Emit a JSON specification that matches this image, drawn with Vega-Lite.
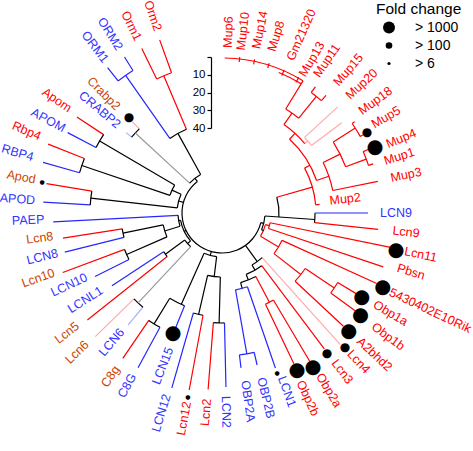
{
  "$schema": "https://vega.github.io/schema/vega-lite/v6.json",
  "width": 444,
  "height": 426,
  "autosize": "none",
  "padding": {"left": 0, "top": 0, "right": 29, "bottom": 25},
  "config": {"view": {"stroke": null}},
  "datasets": {
    "tree": [
      {"t":1,"t2":31.5,"r":155,"r2":155,"c":"M"},
      {"t":22,"t2":31.5,"r":151.5,"r2":151.5,"c":"M"},
      {"t":6.5,"t2":6.5,"r":157,"r2":152,"c":"M"},
      {"t":12,"t2":12,"r":157,"r2":152,"c":"M"},
      {"t":17.5,"t2":17.5,"r":157,"r2":152,"c":"M"},
      {"t":23.5,"t2":23.5,"r":156,"r2":150,"c":"M"},
      {"t":29.5,"t2":29.5,"r":156,"r2":150,"c":"M"},
      {"t":31.5,"t2":31.5,"r":155,"r2":122,"c":"M"},
      {"t":36.5,"t2":36.5,"r":157,"r2":150,"c":"M"},
      {"t":41.5,"t2":41.5,"r":157,"r2":150,"c":"M"},
      {"t":36.5,"t2":41.5,"r":150,"r2":150,"c":"M"},
      {"t":39,"t2":39,"r":150,"r2":122,"c":"M"},
      {"t":31.5,"t2":39,"r":122,"r2":122,"c":"M"},
      {"t":35,"t2":35,"r":122,"r2":108,"c":"M"},
      {"t":47.5,"t2":47.5,"r":157,"r2":112,"c":"MP"},
      {"t":53,"t2":53,"r":150,"r2":112,"c":"MP"},
      {"t":47.5,"t2":53,"r":112,"r2":112,"c":"MP"},
      {"t":50,"t2":50,"r":112,"r2":108,"c":"MP"},
      {"t":35,"t2":50,"r":108,"r2":108,"c":"M"},
      {"t":42.5,"t2":42.5,"r":108,"r2":100,"c":"M"},
      {"t":57.5,"t2":57.5,"r":158,"r2":132,"c":"M"},
      {"t":55.5,"t2":61,"r":158,"r2":158,"c":"M"},
      {"t":55.5,"t2":55.5,"r":161,"r2":158,"c":"M"},
      {"t":61,"t2":61,"r":161,"r2":158,"c":"M"},
      {"t":66.5,"t2":66.5,"r":160,"r2":154,"c":"M"},
      {"t":72,"t2":72,"r":159,"r2":154,"c":"M"},
      {"t":66.5,"t2":72,"r":154,"r2":154,"c":"M"},
      {"t":69.5,"t2":69.5,"r":154,"r2":132,"c":"M"},
      {"t":57.5,"t2":69.5,"r":132,"r2":132,"c":"M"},
      {"t":63.5,"t2":63.5,"r":132,"r2":113,"c":"M"},
      {"t":78.5,"t2":78.5,"r":159,"r2":113,"c":"M"},
      {"t":63.5,"t2":78.5,"r":113,"r2":113,"c":"M"},
      {"t":71,"t2":71,"r":113,"r2":100,"c":"M"},
      {"t":42.5,"t2":71,"r":100,"r2":100,"c":"M"},
      {"t":61.5,"t2":61.5,"r":100,"r2":94,"c":"M"},
      {"t":85,"t2":85,"r":98,"r2":94,"c":"M"},
      {"t":61.5,"t2":85,"r":94,"r2":94,"c":"M"},
      {"t":74,"t2":74,"r":94,"r2":57,"c":"M"},
      {"t":74,"t2":94,"r":57,"r2":57,"c":"K"},
      {"t":94,"t2":94,"r":93,"r2":43,"c":"K"},
      {"t":90,"t2":96,"r":93,"r2":93,"c":"K"},
      {"t":90,"t2":90,"r":146,"r2":93,"c":"H"},
      {"t":96,"t2":96,"r":157,"r2":93,"c":"M"},
      {"t":101.5,"t2":101.5,"r":172,"r2":49,"c":"M"},
      {"t":108.5,"t2":108.5,"r":170,"r2":49,"c":"M"},
      {"t":101.5,"t2":108.5,"r":49,"r2":49,"c":"M"},
      {"t":105,"t2":105,"r":49,"r2":45,"c":"M"},
      {"t":114.5,"t2":114.5,"r":170,"r2":66,"c":"M"},
      {"t":121,"t2":121,"r":157,"r2":135,"c":"M"},
      {"t":126.3,"t2":126.3,"r":166,"r2":135,"c":"M"},
      {"t":121,"t2":126.3,"r":135,"r2":135,"c":"M"},
      {"t":123.7,"t2":123.7,"r":135,"r2":100,"c":"M"},
      {"t":133,"t2":133,"r":166,"r2":100,"c":"M"},
      {"t":123.7,"t2":133,"r":100,"r2":100,"c":"M"},
      {"t":128,"t2":128,"r":100,"r2":66,"c":"M"},
      {"t":114.5,"t2":128,"r":66,"r2":66,"c":"M"},
      {"t":121,"t2":121,"r":66,"r2":45,"c":"M"},
      {"t":105,"t2":121,"r":45,"r2":45,"c":"M"},
      {"t":113,"t2":113,"r":45,"r2":43,"c":"K"},
      {"t":94,"t2":113,"r":43,"r2":43,"c":"K"},
      {"t":104,"t2":104,"r":43,"r2":40,"c":"K"},
      {"t":138,"t2":138,"r":177,"r2":60,"c":"MP"},
      {"t":143,"t2":143,"r":170,"r2":66,"c":"M"},
      {"t":149.4,"t2":149.4,"r":172,"r2":101,"c":"M"},
      {"t":154.5,"t2":154.5,"r":167,"r2":101,"c":"M"},
      {"t":149.4,"t2":154.5,"r":101,"r2":101,"c":"M"},
      {"t":152,"t2":152,"r":101,"r2":72,"c":"M"},
      {"t":161,"t2":161,"r":164,"r2":78,"c":"H"},
      {"t":167,"t2":167,"r":156,"r2":143,"c":"H"},
      {"t":173,"t2":173,"r":156,"r2":143,"c":"H"},
      {"t":167,"t2":173,"r":143,"r2":143,"c":"H"},
      {"t":170,"t2":170,"r":143,"r2":78,"c":"H"},
      {"t":161,"t2":170,"r":78,"r2":78,"c":"H"},
      {"t":165,"t2":165,"r":78,"r2":72,"c":"K"},
      {"t":152,"t2":165,"r":72,"r2":72,"c":"K"},
      {"t":158.5,"t2":158.5,"r":72,"r2":66,"c":"K"},
      {"t":143,"t2":158.5,"r":66,"r2":66,"c":"K"},
      {"t":150,"t2":150,"r":66,"r2":60,"c":"K"},
      {"t":138,"t2":150,"r":60,"r2":60,"c":"K"},
      {"t":144,"t2":144,"r":60,"r2":40,"c":"K"},
      {"t":104,"t2":322,"r":40,"r2":40,"c":"K"},
      {"t":178.7,"t2":178.7,"r":174,"r2":110,"c":"H"},
      {"t":184.5,"t2":184.5,"r":177,"r2":110,"c":"M"},
      {"t":178.7,"t2":184.5,"r":110,"r2":110,"c":"K"},
      {"t":181.5,"t2":181.5,"r":110,"r2":64,"c":"K"},
      {"t":190.5,"t2":190.5,"r":180,"r2":104,"c":"M"},
      {"t":196,"t2":196,"r":182,"r2":104,"c":"H"},
      {"t":190.5,"t2":196,"r":104,"r2":104,"c":"K"},
      {"t":193,"t2":193,"r":104,"r2":64,"c":"K"},
      {"t":181.5,"t2":193,"r":64,"r2":64,"c":"K"},
      {"t":187,"t2":187,"r":64,"r2":44,"c":"K"},
      {"t":202,"t2":202,"r":124,"r2":100,"c":"H"},
      {"t":208.5,"t2":208.5,"r":176,"r2":130,"c":"H"},
      {"t":214.3,"t2":214.3,"r":176,"r2":130,"c":"M"},
      {"t":208.5,"t2":214.3,"r":130,"r2":130,"c":"K"},
      {"t":211.5,"t2":211.5,"r":130,"r2":100,"c":"K"},
      {"t":202,"t2":211.5,"r":100,"r2":100,"c":"K"},
      {"t":204,"t2":204,"r":100,"r2":44,"c":"K"},
      {"t":187,"t2":204,"r":44,"r2":44,"c":"K"},
      {"t":195.5,"t2":195.5,"r":44,"r2":40,"c":"K"},
      {"t":220,"t2":220,"r":146,"r2":123,"c":"HP"},
      {"t":225.7,"t2":225.7,"r":177,"r2":123,"c":"MP"},
      {"t":220,"t2":225.7,"r":123,"r2":123,"c":"K"},
      {"t":223,"t2":223,"r":123,"r2":46,"c":"G"},
      {"t":231.5,"t2":231.5,"r":172,"r2":70,"c":"M"},
      {"t":236.5,"t2":236.5,"r":132,"r2":70,"c":"H"},
      {"t":231.5,"t2":236.5,"r":70,"r2":70,"c":"K"},
      {"t":234,"t2":234,"r":70,"r2":46,"c":"K"},
      {"t":223,"t2":234,"r":46,"r2":46,"c":"K"},
      {"t":228.5,"t2":228.5,"r":46,"r2":42,"c":"K"},
      {"t":243.4,"t2":243.4,"r":142,"r2":104,"c":"H"},
      {"t":249.5,"t2":249.5,"r":170,"r2":104,"c":"M"},
      {"t":243.4,"t2":249.5,"r":104,"r2":104,"c":"K"},
      {"t":246.5,"t2":246.5,"r":104,"r2":60,"c":"K"},
      {"t":256,"t2":256,"r":162,"r2":101,"c":"H"},
      {"t":261,"t2":261,"r":161,"r2":101,"c":"M"},
      {"t":256,"t2":261,"r":101,"r2":101,"c":"K"},
      {"t":258.5,"t2":258.5,"r":101,"r2":60,"c":"K"},
      {"t":246.5,"t2":258.5,"r":60,"r2":60,"c":"K"},
      {"t":252.5,"t2":252.5,"r":60,"r2":44,"c":"K"},
      {"t":267,"t2":267,"r":169,"r2":44,"c":"H"},
      {"t":252.5,"t2":267,"r":44,"r2":44,"c":"K"},
      {"t":260,"t2":260,"r":44,"r2":42,"c":"K"},
      {"t":228.5,"t2":260,"r":42,"r2":42,"c":"K"},
      {"t":244,"t2":244,"r":42,"r2":40,"c":"K"},
      {"t":273.5,"t2":273.5,"r":179,"r2":132,"c":"H"},
      {"t":279.5,"t2":279.5,"r":178,"r2":132,"c":"M"},
      {"t":273.5,"t2":279.5,"r":132,"r2":132,"c":"K"},
      {"t":276.5,"t2":276.5,"r":132,"r2":45,"c":"K"},
      {"t":285.8,"t2":285.8,"r":186,"r2":148,"c":"H"},
      {"t":291.6,"t2":291.6,"r":187,"r2":148,"c":"M"},
      {"t":285.8,"t2":291.6,"r":148,"r2":148,"c":"K"},
      {"t":288.7,"t2":288.7,"r":148,"r2":55,"c":"K"},
      {"t":297.5,"t2":297.5,"r":174,"r2":142,"c":"H"},
      {"t":303.5,"t2":303.5,"r":174,"r2":142,"c":"M"},
      {"t":297.5,"t2":303.5,"r":142,"r2":142,"c":"K"},
      {"t":300.5,"t2":300.5,"r":142,"r2":55,"c":"K"},
      {"t":288.7,"t2":300.5,"r":55,"r2":55,"c":"K"},
      {"t":294.6,"t2":294.6,"r":55,"r2":45,"c":"K"},
      {"t":276.5,"t2":294.6,"r":45,"r2":45,"c":"K"},
      {"t":285.5,"t2":285.5,"r":45,"r2":40,"c":"K"},
      {"t":310,"t2":310,"r":125,"r2":118,"c":"HP"},
      {"t":315.5,"t2":315.5,"r":128,"r2":118,"c":"MP"},
      {"t":310,"t2":315.5,"r":118,"r2":118,"c":"K"},
      {"t":312.7,"t2":312.7,"r":118,"r2":44,"c":"G"},
      {"t":321.8,"t2":321.8,"r":185,"r2":168,"c":"H"},
      {"t":328,"t2":328,"r":184,"r2":168,"c":"H"},
      {"t":321.8,"t2":328,"r":168,"r2":168,"c":"H"},
      {"t":325,"t2":325,"r":168,"r2":91,"c":"H"},
      {"t":334,"t2":334,"r":183,"r2":149,"c":"M"},
      {"t":340.2,"t2":340.2,"r":184,"r2":149,"c":"M"},
      {"t":334,"t2":340.2,"r":149,"r2":149,"c":"M"},
      {"t":337,"t2":337,"r":149,"r2":91,"c":"M"},
      {"t":325,"t2":337,"r":91,"r2":91,"c":"K"},
      {"t":331,"t2":331,"r":91,"r2":44,"c":"K"},
      {"t":312.7,"t2":331,"r":44,"r2":44,"c":"K"},
      {"t":322,"t2":322,"r":44,"r2":40,"c":"K"}
    ],
    "labels": [
      {"name":"Mup6","t":2,"lr":181,"sp":"M"},
      {"name":"Mup10","t":6.6,"lr":183,"sp":"M"},
      {"name":"Mup14","t":11.7,"lr":187,"sp":"M"},
      {"name":"Mup8","t":17,"lr":185,"sp":"M"},
      {"name":"Gm21320","t":24,"lr":195,"sp":"M"},
      {"name":"Mup13","t":30.3,"lr":178,"sp":"M"},
      {"name":"Mup11","t":34.5,"lr":185,"sp":"M"},
      {"name":"Mup15","t":41.4,"lr":191,"sp":"M"},
      {"name":"Mup20","t":47.3,"lr":190,"sp":"M"},
      {"name":"Mup18","t":53.8,"lr":190,"sp":"M"},
      {"name":"Mup5","t":59.7,"lr":190,"sp":"M"},
      {"name":"Mup4","t":67.4,"lr":194,"sp":"M"},
      {"name":"Mup1","t":72.3,"lr":186,"sp":"M"},
      {"name":"Mup3","t":78.3,"lr":188,"sp":"M"},
      {"name":"Mup2","t":83.5,"lr":124,"sp":"M"},
      {"name":"LCN9","t":90,"lr":174,"sp":"H"},
      {"name":"Lcn9","t":95.9,"lr":185,"sp":"M"},
      {"name":"Lcn11","t":101.8,"lr":203,"sp":"M"},
      {"name":"Pbsn","t":107.3,"lr":198,"sp":"M"},
      {"name":"5430402E10Rik","t":115.1,"lr":230,"sp":"M"},
      {"name":"Obp1a","t":120.7,"lr":196,"sp":"M"},
      {"name":"Obp1b","t":126.6,"lr":207,"sp":"M"},
      {"name":"A2bhd2","t":132.8,"lr":208,"sp":"M"},
      {"name":"Lcn4","t":137.4,"lr":202,"sp":"M"},
      {"name":"Lcn3","t":142.8,"lr":199,"sp":"M"},
      {"name":"Obp2a","t":148.9,"lr":207,"sp":"M"},
      {"name":"Obp2b","t":155.1,"lr":204,"sp":"M"},
      {"name":"LCN1","t":160,"lr":190,"sp":"H"},
      {"name":"OBP2B","t":166.6,"lr":190,"sp":"H"},
      {"name":"OBP2A","t":172.1,"lr":190,"sp":"H"},
      {"name":"LCN2","t":178.8,"lr":199,"sp":"H"},
      {"name":"Lcn2","t":184.6,"lr":200,"sp":"M"},
      {"name":"Lcn12","t":190.5,"lr":209,"sp":"M"},
      {"name":"LCN12","t":196.9,"lr":209,"sp":"H"},
      {"name":"LCN15","t":201.2,"lr":164,"sp":"H"},
      {"name":"C8G","t":208.8,"lr":197,"sp":"H"},
      {"name":"C8g","t":214.3,"lr":198,"sp":"O"},
      {"name":"LCN6","t":220.5,"lr":170,"sp":"H"},
      {"name":"Lcn6","t":226.2,"lr":201,"sp":"O"},
      {"name":"Lcn5","t":232.3,"lr":196,"sp":"O"},
      {"name":"LCNL1","t":237.6,"lr":162,"sp":"H"},
      {"name":"LCN10","t":244.8,"lr":169,"sp":"H"},
      {"name":"Lcn10","t":250.5,"lr":195,"sp":"O"},
      {"name":"LCN8","t":256.3,"lr":185,"sp":"H"},
      {"name":"Lcn8","t":262.2,"lr":184,"sp":"O"},
      {"name":"PAEP","t":267.9,"lr":194,"sp":"H"},
      {"name":"APOD","t":273.9,"lr":205,"sp":"H"},
      {"name":"Apod","t":280.2,"lr":204,"sp":"O"},
      {"name":"RBP4","t":286.4,"lr":213,"sp":"H"},
      {"name":"Rbp4","t":292.8,"lr":212,"sp":"M"},
      {"name":"APOM","t":298.1,"lr":197,"sp":"H"},
      {"name":"Apom","t":304.4,"lr":200,"sp":"M"},
      {"name":"CRABP2","t":310.2,"lr":160,"sp":"H"},
      {"name":"Crabp2","t":315.3,"lr":168,"sp":"O"},
      {"name":"ORM1","t":322.6,"lr":209,"sp":"H"},
      {"name":"ORM2","t":328,"lr":211,"sp":"H"},
      {"name":"Orm1","t":334.2,"lr":208,"sp":"M"},
      {"name":"Orm2","t":340.7,"lr":209,"sp":"M"}
    ],
    "dots": [
      {"name":"Mup5","t":60.8,"r":166,"fold":"> 100"},
      {"name":"Mup4","t":66.7,"r":166.6,"fold":"> 1000"},
      {"name":"Lcn11","t":102,"r":178,"fold":"> 1000"},
      {"name":"5430402E10Rik","t":114.7,"r":177,"fold":"> 1000"},
      {"name":"Obp1a","t":121,"r":163,"fold":"> 1000"},
      {"name":"Obp1b","t":126.3,"r":172,"fold":"> 1000"},
      {"name":"A2bhd2","t":132.9,"r":173,"fold":"> 1000"},
      {"name":"Lcn4","t":137.5,"r":182,"fold":"> 100"},
      {"name":"Lcn3","t":143.1,"r":175,"fold":"> 100"},
      {"name":"Obp2a","t":149.4,"r":179,"fold":"> 1000"},
      {"name":"Obp2b","t":154.5,"r":174,"fold":"> 1000"},
      {"name":"LCN1","t":161,"r":169,"fold":"> 6"},
      {"name":"Lcn12","t":190.5,"r":187,"fold":"> 6"},
      {"name":"LCN15","t":202.2,"r":129.6,"fold":"> 1000"},
      {"name":"Apod","t":279.8,"r":182.6,"fold":"> 6"},
      {"name":"Crabp2","t":315.9,"r":133.6,"fold":"> 100"}
    ],
    "scalebar": [{"d":0},{"d":10},{"d":20},{"d":30},{"d":40}]
  },
  "layer": [
    {
      "data": {"name": "tree"},
      "mark": {"type": "arc", "filled": false, "strokeWidth": 1.2},
      "encoding": {
        "theta": {"field": "t", "type": "quantitative", "stack": null, "scale": {"domain": [0, 360]}},
        "theta2": {"field": "t2"},
        "radius": {"field": "r", "type": "quantitative", "scale": {"type": "linear", "domain": [0, 250], "range": [0, 250], "zero": true}},
        "radius2": {"field": "r2"},
        "stroke": {"field": "c", "type": "nominal", "legend": null,
          "scale": {"domain": ["M", "H", "K", "MP", "HP", "G"], "range": ["#ff0000", "#2626ff", "#000000", "#ffaaaa", "#aaaaff", "#999999"]}}
      }
    },
    {
      "data": {"name": "labels"},
      "transform": [{"filter": {"field": "t", "lt": 180}}],
      "mark": {"type": "text", "font": "Liberation Sans", "fontSize": 12.5, "align": "center", "baseline": "middle"},
      "encoding": {
        "theta": {"field": "t", "type": "quantitative", "stack": null, "scale": {"domain": [0, 360]}},
        "radius": {"field": "lr", "type": "quantitative", "scale": {"type": "linear", "domain": [0, 250], "range": [0, 250], "zero": true}},
        "angle": {"field": "t", "type": "quantitative", "scale": {"domain": [0, 180], "range": [-90, 90], "zero": false}},
        "text": {"field": "name"},
        "color": {"field": "sp", "type": "nominal", "legend": null,
          "scale": {"domain": ["M", "H", "O"], "range": ["#ff0000", "#3333ff", "#cc4400"]}}
      }
    },
    {
      "data": {"name": "labels"},
      "transform": [{"filter": {"field": "t", "gte": 180}}],
      "mark": {"type": "text", "font": "Liberation Sans", "fontSize": 12.5, "align": "center", "baseline": "middle"},
      "encoding": {
        "theta": {"field": "t", "type": "quantitative", "stack": null, "scale": {"domain": [0, 360]}},
        "radius": {"field": "lr", "type": "quantitative", "scale": {"type": "linear", "domain": [0, 250], "range": [0, 250], "zero": true}},
        "angle": {"field": "t", "type": "quantitative", "scale": {"domain": [180, 360], "range": [-90, 90], "zero": false}},
        "text": {"field": "name"},
        "color": {"field": "sp", "type": "nominal", "legend": null,
          "scale": {"domain": ["M", "H", "O"], "range": ["#ff0000", "#3333ff", "#cc4400"]}}
      }
    },
    {
      "data": {"name": "dots"},
      "mark": {"type": "text", "text": "●", "font": "DejaVu Sans", "align": "center", "baseline": "middle", "color": "black"},
      "encoding": {
        "theta": {"field": "t", "type": "quantitative", "stack": null, "scale": {"domain": [0, 360]}},
        "radius": {"field": "r", "type": "quantitative", "scale": {"type": "linear", "domain": [0, 250], "range": [0, 250], "zero": true}},
        "size": {"field": "fold", "type": "ordinal", "legend": null,
          "scale": {"type": "ordinal", "domain": ["> 1000", "> 100", "> 6"], "range": [19.5, 12, 6]}}
      }
    },
    {
      "data": {"name": "dots"},
      "mark": {"type": "point", "filled": true, "color": "black", "opacity": 0},
      "encoding": {
        "size": {"field": "fold", "type": "ordinal",
          "scale": {"type": "ordinal", "domain": ["> 1000", "> 100", "> 6"], "range": [143, 44, 10]},
          "legend": {"title": "Fold change", "orient": "none", "legendX": 376, "legendY": 2, "padding": 0,
            "titleFont": "Liberation Sans", "titleFontSize": 15.5, "titleFontWeight": "normal", "titleColor": "black", "titlePadding": 3,
            "labelFont": "Liberation Sans", "labelFontSize": 14, "labelColor": "black", "labelOffset": 19,
            "symbolOffset": 6, "symbolOpacity": 1, "symbolFillColor": "black", "symbolStrokeWidth": 0, "symbolType": "circle", "rowPadding": 4}
        }
      }
    },
    {
      "data": {"name": "scalebar"},
      "mark": {"type": "point", "opacity": 0},
      "encoding": {
        "y": {"field": "d", "type": "quantitative", "scale": {"domain": [0, 40], "range": [57, 128], "nice": false},
          "axis": {"orient": "left", "offset": -211, "title": null, "grid": false, "values": [0, 10, 20, 30, 40],
            "labelExpr": "datum.value == 0 ? '' : datum.label", "tickSize": 4, "labelPadding": 2,
            "labelFont": "Liberation Sans", "labelFontSize": 11.5, "labelColor": "black",
            "domainColor": "black", "tickColor": "black", "domainWidth": 1.2, "tickWidth": 1.2}}
      }
    }
  ],
  "resolve": {"scale": {"size": "independent", "angle": "independent"}}
}
